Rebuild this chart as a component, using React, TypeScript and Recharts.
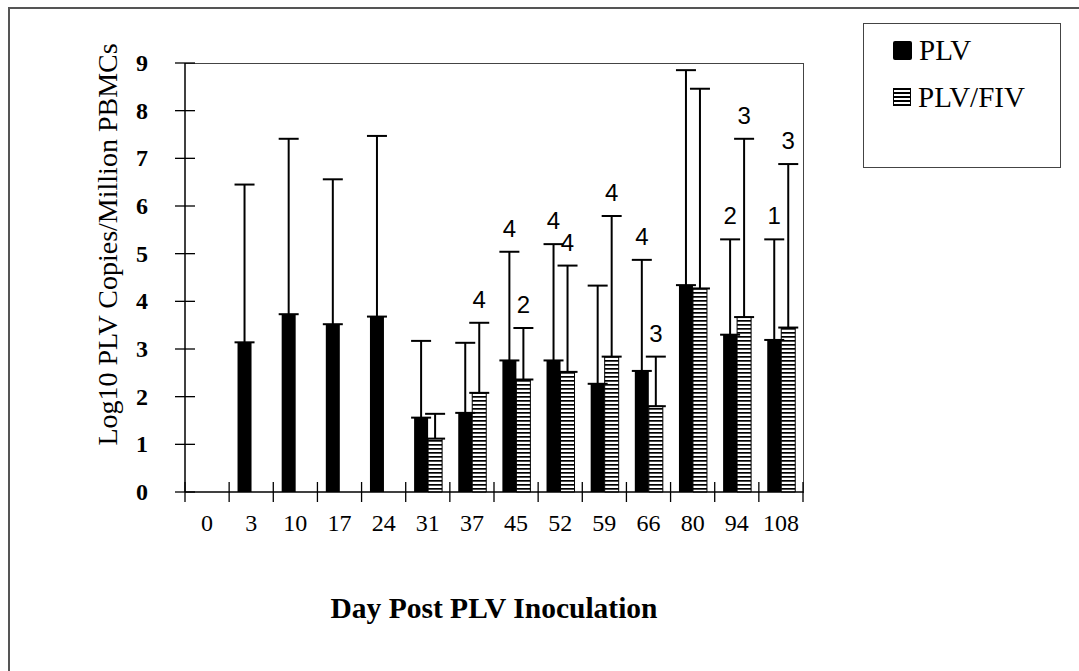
import { Bar, BarChart, ErrorBar, LabelList, Legend, XAxis, YAxis } from "recharts";

// ─── data ────────────────────────────────────────────────────────────────────
const DAYS = ["0", "3", "10", "17", "24", "31", "37", "45", "52", "59", "66", "80", "94", "108"];

const PLV_MEAN = [null, 3.14, 3.73, 3.52, 3.68, 1.56, 1.66, 2.76, 2.76, 2.27, 2.54, 4.34, 3.3, 3.19];
const PLV_UPPER = [null, 6.45, 7.41, 6.56, 7.47, 3.17, 3.13, 5.04, 5.2, 4.33, 4.87, 8.85, 5.3, 5.3];
const PLV_N = [null, null, null, null, null, null, null, 4, 4, null, 4, null, 2, 1];

const FIV_MEAN = [null, null, null, null, null, 1.12, 2.08, 2.36, 2.52, 2.84, 1.8, 4.27, 3.67, 3.45];
const FIV_UPPER = [null, null, null, null, null, 1.64, 3.55, 3.44, 4.75, 5.79, 2.84, 8.46, 7.41, 6.88];
const FIV_N = [null, null, null, null, null, null, 4, 2, 4, 4, 3, null, 3, 3];

const Y_TICKS = [0, 1, 2, 3, 4, 5, 6, 7, 8, 9];

const SERIF = "'Liberation Serif', 'Times New Roman', serif";
const SANS = "'Liberation Sans', Arial, sans-serif";

// label value carries "n|upper|mean" so the content renderer can find the cap
const tag = (n: number | null, up: number | null, mean: number | null) =>
  n != null && up != null && mean != null ? `${n}|${up}|${mean}` : undefined;

const data = DAYS.map((day, i) => ({
  day,
  plv: PLV_MEAN[i],
  fiv: FIV_MEAN[i],
  plvErr: PLV_MEAN[i] != null ? [0, (PLV_UPPER[i] as number) - (PLV_MEAN[i] as number)] : undefined,
  fivErr: FIV_MEAN[i] != null ? [0, (FIV_UPPER[i] as number) - (FIV_MEAN[i] as number)] : undefined,
  plvTag: tag(PLV_N[i], PLV_UPPER[i], PLV_MEAN[i]),
  fivTag: tag(FIV_N[i], FIV_UPPER[i], FIV_MEAN[i]),
}));

// ─── axis ticks: marks cross the axis line ───────────────────────────────────
function XTick(props: any) {
  const { x, y, payload, index } = props;
  const half = payload?.offset ?? 618 / DAYS.length / 2;
  return (
    <g>
      <line x1={x - half} x2={x - half} y1={y - 10} y2={y + 10} stroke="#000" strokeWidth={1.3} />
      {index === DAYS.length - 1 && (
        <line x1={x + half} x2={x + half} y1={y - 10} y2={y + 10} stroke="#000" strokeWidth={1.3} />
      )}
      <text x={x} y={y + 39} textAnchor="middle" fontFamily={SERIF} fontSize={24} fill="#000">
        {payload.value}
      </text>
    </g>
  );
}

function YTick(props: any) {
  const { x, y, payload } = props;
  return (
    <g>
      <line x1={x - 10} x2={x + 10} y1={y} y2={y} stroke="#000" strokeWidth={1.3} />
      <text x={x - 37} y={y + 8} textAnchor="end" fontFamily={SERIF} fontWeight={700} fontSize={24} fill="#000">
        {payload.value}
      </text>
    </g>
  );
}

// n above the error bar cap
function NLabel(props: any) {
  const { value } = props;
  if (value == null || typeof value !== "string") return null;
  const [n, up, mean] = value.split("|");
  const vb = props.viewBox ?? props;
  const pxPerUnit = vb.height / Number(mean);
  const capY = vb.y - (Number(up) - Number(mean)) * pxPerUnit;
  return (
    <text x={vb.x + vb.width / 2} y={capY - 15} textAnchor="middle" fontFamily={SANS} fontSize={24} fill="#000">
      {n}
    </text>
  );
}

function LegendBox(props: any) {
  const items = props.payload ?? [];
  return (
    <div
      style={{
        width: 198,
        height: 145,
        border: "1.5px solid #444",
        boxSizing: "border-box",
        position: "relative",
        background: "#fff",
      }}
    >
      {items.map((it: any, i: number) => (
        <div
          key={it.value}
          style={{
            position: "absolute",
            left: 29,
            top: 14 + i * 47,
            height: 24,
            display: "flex",
            alignItems: "center",
            fontFamily: SERIF,
            fontSize: 29,
            color: "#000",
            whiteSpace: "nowrap",
          }}
        >
          {i === 0 ? (
            <div style={{ width: 19, height: 19, background: "#000", borderRadius: 2 }} />
          ) : (
            <svg width={18} height={18}>
              <defs>
                <pattern id="stripesLegend" width={4} height={4} patternUnits="userSpaceOnUse">
                  <rect width={4} height={4} fill="#fff" />
                  <rect width={4} height={2} fill="#000" />
                </pattern>
              </defs>
              <rect x={0.5} y={0.5} width={17} height={17} fill="url(#stripesLegend)" stroke="#000" strokeWidth={1} />
            </svg>
          )}
          <span style={{ marginLeft: 7, lineHeight: "24px" }}>{it.value}</span>
        </div>
      ))}
    </div>
  );
}

export default function App() {
  return (
    <div style={{ position: "relative", width: 1079, height: 671, background: "#fff" }}>
      <style>{"body{margin:0;background:#fff}"}</style>
      {/* outer frame */}
      <div
        style={{
          position: "absolute",
          left: 8,
          top: 7,
          width: 1071,
          height: 664,
          borderTop: "2px solid #555",
          borderLeft: "2px solid #555",
          boxSizing: "border-box",
        }}
      />
      {/* plot frame (top + right) */}
      <div
        style={{
          position: "absolute",
          left: 185,
          top: 63,
          width: 619,
          height: 430,
          borderTop: "1.5px solid #444",
          borderRight: "1.5px solid #444",
          boxSizing: "border-box",
          pointerEvents: "none",
        }}
      />
      <div style={{ position: "absolute", left: 0, top: 0 }}>
        <BarChart
          width={1079}
          height={671}
          data={data}
          margin={{ top: 63, right: 276, bottom: 139, left: 135 }}
          barCategoryGap="19%"
          barGap={0}
        >
          <defs>
            <pattern id="stripes" width={4} height={4} patternUnits="userSpaceOnUse">
              <rect width={4} height={4} fill="#fff" />
              <rect width={4} height={1.7} fill="#000" />
            </pattern>
          </defs>
          <XAxis
            dataKey="day"
            height={40}
            interval={0}
            tickSize={0}
            tickMargin={0}
            tickLine={false}
            axisLine={{ stroke: "#000", strokeWidth: 1.5 }}
            tick={<XTick />}
            label={{
              content: (p: any) => {
                const vb = p.viewBox;
                return (
                  <text
                    x={vb.x + vb.width / 2}
                    y={vb.y + 126}
                    textAnchor="middle"
                    fontFamily={SERIF}
                    fontWeight={700}
                    fontSize={29.5}
                    fill="#000"
                  >
                    Day Post PLV Inoculation
                  </text>
                );
              },
            }}
          />
          <YAxis
            width={50}
            domain={[0, 9]}
            ticks={Y_TICKS}
            interval={0}
            tickSize={0}
            tickMargin={0}
            tickLine={false}
            axisLine={{ stroke: "#000", strokeWidth: 1.5 }}
            tick={<YTick />}
            label={{
              content: (p: any) => {
                const vb = p.viewBox;
                const x = vb.x - 18;
                const y = vb.y + vb.height / 2 - 33;
                return (
                  <text
                    x={x}
                    y={y}
                    transform={`rotate(-90, ${x}, ${y})`}
                    textAnchor="middle"
                    fontFamily={SERIF}
                    fontSize={28}
                    fill="#000"
                  >
                    Log10 PLV Copies/Million PBMCs
                  </text>
                );
              },
            }}
          />
          <Legend
            layout="vertical"
            align="center"
            verticalAlign="middle"
            content={<LegendBox />}
            wrapperStyle={{ position: "absolute", left: 863, top: 23, width: 198, height: 145 }}
          />
          <Bar dataKey="plv" name="PLV" fill="#000" isAnimationActive={false}>
            <ErrorBar dataKey="plvErr" width={10} strokeWidth={2} stroke="#000" direction="y" />
            <LabelList dataKey="plvTag" content={<NLabel />} />
          </Bar>
          <Bar dataKey="fiv" name="PLV/FIV" fill="url(#stripes)" stroke="#000" strokeWidth={1} isAnimationActive={false}>
            <ErrorBar dataKey="fivErr" width={10} strokeWidth={2} stroke="#000" direction="y" />
            <LabelList dataKey="fivTag" content={<NLabel />} />
          </Bar>
        </BarChart>
      </div>
    </div>
  );
}
